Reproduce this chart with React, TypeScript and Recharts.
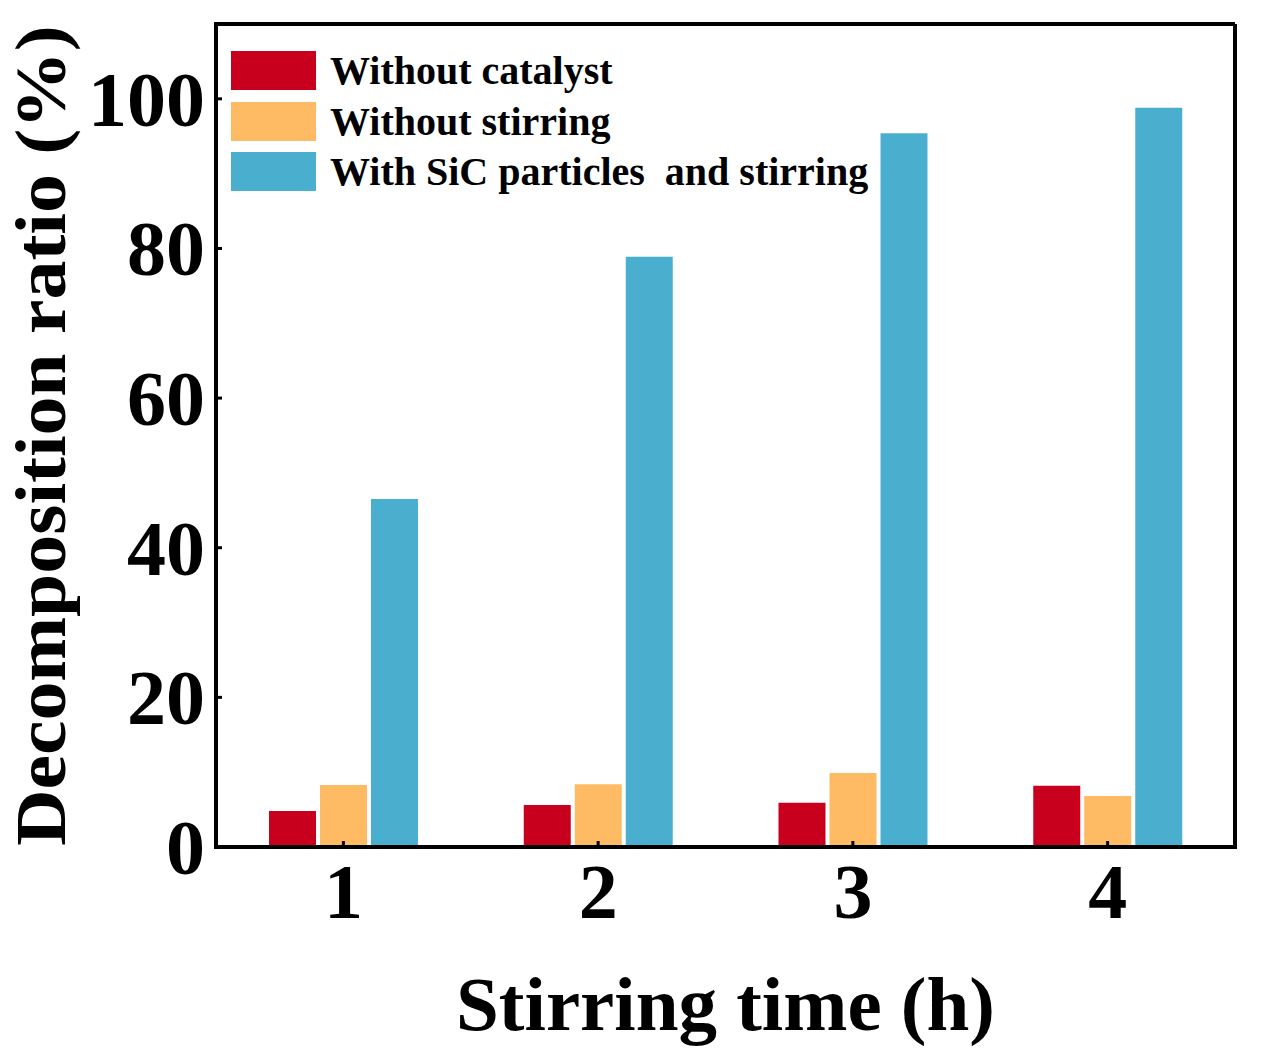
import { Bar, BarChart, CartesianGrid, Label, Legend, XAxis, YAxis } from "recharts";

const categories = ["1", "2", "3", "4"];
const withoutCatalyst = [4.8, 5.6, 5.9, 8.2];
const withoutStirring = [8.3, 8.4, 9.9, 6.8];
const withSicAndStirring = [46.5, 78.9, 95.4, 98.8];
const yTicks = [0, 20, 40, 60, 80, 100];
const seriesNames = ["Without catalyst", "Without stirring", "With SiC particles  and stirring"];

const data = categories.map((time, i) => ({
  time,
  withoutCatalyst: withoutCatalyst[i],
  withoutStirring: withoutStirring[i],
  withSicAndStirring: withSicAndStirring[i],
}));

const FONT = '"Liberation Serif", "Times New Roman", serif';
const axisLine = { stroke: "#000", strokeWidth: 4, strokeLinecap: "square" as const };

function YTick({ x, y, payload }: any) {
  return (
    <g>
      <line x1={x} x2={x + 6} y1={y} y2={y} stroke="#000" strokeWidth={3} />
      <text
        x={x - 11}
        y={y}
        dy={27}
        textAnchor="end"
        fontFamily={FONT}
        fontWeight="bold"
        fontSize={78}
        fill="#000"
      >
        {payload.value}
      </text>
    </g>
  );
}

function XTick({ x, y, payload }: any) {
  return (
    <g>
      <line x1={x} x2={x} y1={y} y2={y - 6} stroke="#000" strokeWidth={3} />
      <text
        x={x}
        y={y}
        dy={71}
        textAnchor="middle"
        fontFamily={FONT}
        fontWeight="bold"
        fontSize={78}
        fill="#000"
      >
        {payload.value}
      </text>
    </g>
  );
}

function renderLegend({ payload }: any) {
  const items = [...(payload || [])].sort(
    (a: any, b: any) => seriesNames.indexOf(a.value) - seriesNames.indexOf(b.value)
  );
  return (
    <div style={{ fontFamily: FONT, fontWeight: "bold", fontSize: 40, color: "#000" }}>
      {items.map((entry: any) => (
        <div
          key={entry.value}
          style={{ display: "flex", alignItems: "center", height: 39, marginBottom: 11.5 }}
        >
          <span style={{ width: 85, height: 39, background: entry.color, marginRight: 14 }} />
          <span style={{ whiteSpace: "pre", lineHeight: "39px" }}>{entry.value}</span>
        </div>
      ))}
    </div>
  );
}

export default function App() {
  return (
    <div style={{ position: "absolute", left: 0, top: 0, background: "#fff" }}>
      <BarChart
        width={1264}
        height={1060}
        data={data}
        margin={{ top: 24, right: 29, bottom: 0, left: 0 }}
        barSize={47}
        barGap={4}
      >
        <CartesianGrid
          stroke="#000"
          strokeWidth={4}
          horizontalCoordinatesGenerator={({ offset }: any) => [offset.top]}
          verticalCoordinatesGenerator={({ offset }: any) => [offset.left + offset.width]}
        />
        <XAxis
          dataKey="time"
          height={213}
          axisLine={axisLine}
          tickLine={false}
          tickSize={0}
          tickMargin={0}
          tick={<XTick />}
        >
          <Label
            content={({ viewBox }: any) => (
              <text
                x={viewBox.x + viewBox.width / 2}
                y={viewBox.y + 183}
                textAnchor="middle"
                fontFamily={FONT}
                fontWeight="bold"
                fontSize={77}
                fill="#000"
              >
                Stirring time (h)
              </text>
            )}
          />
        </XAxis>
        <YAxis
          width={216}
          domain={[0, 110]}
          ticks={yTicks}
          axisLine={axisLine}
          tickLine={false}
          tickSize={0}
          tickMargin={0}
          tick={<YTick />}
        >
          <Label
            content={({ viewBox }: any) => {
              const cx = viewBox.x + 65;
              const cy = viewBox.y + viewBox.height / 2;
              // stretched along the text direction, as in the source figure
              return (
                <text
                  x={cx}
                  y={cy}
                  transform={`rotate(-90, ${cx}, ${cy}) translate(${cx} ${cy}) scale(1.08 1) translate(${-cx} ${-cy})`}
                  textAnchor="middle"
                  fontFamily={FONT}
                  fontWeight="bold"
                  fontSize={72}
                  fill="#000"
                >
                  Decomposition ratio (%)
                </text>
              );
            }}
          />
        </YAxis>
        <Legend
          layout="vertical"
          align="center"
          verticalAlign="middle"
          content={renderLegend}
          wrapperStyle={{ top: 51, left: 231, width: "auto" }}
        />
        <Bar
          dataKey="withoutCatalyst"
          name={seriesNames[0]}
          fill="#C8001E"
          isAnimationActive={false}
        />
        <Bar
          dataKey="withoutStirring"
          name={seriesNames[1]}
          fill="#FFBB64"
          isAnimationActive={false}
        />
        <Bar
          dataKey="withSicAndStirring"
          name={seriesNames[2]}
          fill="#4AAFCF"
          isAnimationActive={false}
        />
      </BarChart>
    </div>
  );
}
